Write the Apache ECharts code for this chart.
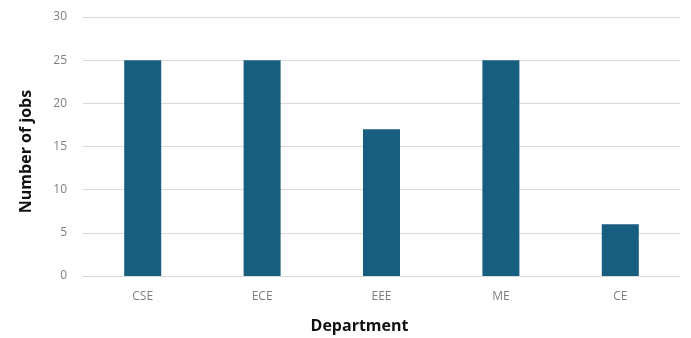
<!DOCTYPE html>
<html><head><meta charset="utf-8">
<script src="https://cdn.jsdelivr.net/npm/echarts@6/dist/echarts.min.js"></script>
<style>html,body{margin:0;padding:0;background:#fff}#c{width:691px;height:338px}</style>
</head><body><div id="c"></div>
<script>
const categories = ['CSE', 'ECE', 'EEE', 'ME', 'CE'];
const jobs = [25, 25, 17, 25, 6];
const yTicks = [0, 5, 10, 15, 20, 25, 30];

const chart = echarts.init(document.getElementById('c'));
chart.setOption({
  animation: false,
  grid: { left: 83, right: 11, top: 17, bottom: 62, containLabel: false, outerBoundsMode: 'none' },
  xAxis: {
    type: 'category', data: categories,
    name: 'Department', nameLocation: 'middle', nameGap: 42,
    nameTextStyle: { fontFamily: 'Open Sans', fontWeight: 'bold', fontSize: 16, color: '#111', padding: [0, 44, 0, 0] },
    axisLine: { lineStyle: { color: '#d9d9d9' } },
    axisTick: { show: false },
    axisLabel: { fontFamily: 'Open Sans', fontSize: 12, color: '#7f7f7f', margin: 15 }
  },
  yAxis: {
    type: 'value', min: yTicks[0], max: yTicks[yTicks.length - 1], interval: 5,
    name: 'Number of jobs', nameLocation: 'middle', nameGap: 49,
    nameTextStyle: { fontFamily: 'Open Sans', fontWeight: 'bold', fontSize: 16, color: '#111', padding: [0, 10, 0, 0] },
    axisLine: { show: false }, axisTick: { show: false },
    axisLabel: { fontFamily: 'Open Sans', fontSize: 12, color: '#7f7f7f', margin: 16 },
    splitLine: { lineStyle: { color: '#d9d9d9' } }
  },
  series: [{
    type: 'bar', data: jobs, barWidth: '31%',
    itemStyle: { color: '#175e7f' }
  }]
});
</script></body></html>
